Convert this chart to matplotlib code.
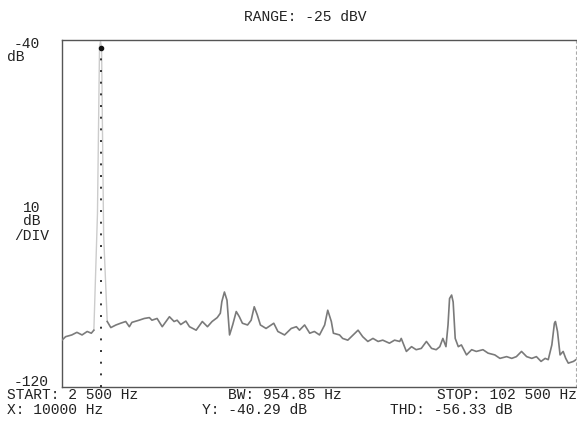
import matplotlib
matplotlib.use("Agg")
import matplotlib.pyplot as plt

# ---- data ----
freq_hz = [2500, 3200, 4400, 5400, 6400, 7400, 8200, 8700,
           9400, 9800, 10000, 10200, 10600,
           11300, 12000, 13000, 13900, 14900, 15600, 16100, 17500, 18500, 19500,
           20000, 21000, 22000, 23400, 24300, 24900, 25600, 26600, 27300, 28600,
           29800, 30800, 31700, 32700, 33300, 33600, 34100, 34600, 35100, 35700,
           36400, 37000, 37600, 38600, 39300, 39900, 40500, 41100, 42200, 43700,
           44500, 45800, 47100, 48100, 48700, 49700, 50700, 51600, 52600, 53600,
           54200, 54900, 55300, 56500, 57100, 58100, 60100, 61000, 62000, 63000,
           64000, 64900, 66200, 67200, 68200, 68500, 69500, 70500, 71400, 72400,
           73400, 74400, 75300, 76000, 76600, 77200, 77600, 77900, 78300, 78600,
           79000, 79600, 80200, 81200, 82200, 83100, 84400, 85400, 86700, 87700,
           89000, 90000, 90900, 91900, 92900, 93900, 94800, 95700, 96500, 97100,
           97800, 98300, 98500, 98900, 99400, 100000, 100500, 101000, 102000, 102500]
level_db = [-109.2, -108.4, -108.0, -107.4, -108.0, -107.2, -107.6, -106.9,
            -80.0, -41.5, -40.3, -42.0, -85.0,
            -104.9, -106.3, -105.7, -105.3, -104.9, -106.1, -105.1, -104.6, -104.2, -104.0,
            -104.6, -104.2, -106.1, -103.8, -104.9, -104.6, -105.6, -104.8, -106.1, -106.9,
            -104.9, -106.1, -104.9, -104.0, -103.0, -100.3, -98.1, -100.0, -108.0, -105.7,
            -102.6, -103.8, -105.3, -105.7, -104.6, -101.5, -103.4, -105.7, -106.5, -105.3,
            -107.2, -108.0, -106.5, -106.1, -106.9, -105.7, -107.6, -107.2, -108.0, -105.7,
            -102.3, -104.9, -107.6, -108.0, -108.8, -109.2, -106.9, -108.4, -109.5, -108.8,
            -109.5, -109.2, -109.9, -109.2, -109.5, -108.8, -111.8, -110.7, -111.4, -111.1,
            -109.5, -111.1, -111.4, -110.7, -108.8, -110.7, -105.7, -99.6, -98.8, -100.4,
            -108.8, -110.7, -110.3, -112.6, -111.4, -111.8, -111.4, -112.2, -112.6, -113.4,
            -113.0, -113.4, -113.0, -111.8, -113.0, -113.4, -113.0, -114.1, -113.4, -113.7,
            -110.3, -105.3, -104.9, -107.2, -112.6, -111.8, -113.4, -114.5, -114.1, -113.7]

marker_hz = 10000
marker_db = -40.29
x_start, x_stop = 2500, 102500
y_top, y_bottom = -40, -120

title_text = "RANGE: -25 dBV"
footer_row1 = ["START: 2 500 Hz", "BW: 954.85 Hz", "STOP: 102 500 Hz"]
footer_row2 = ["X: 10000 Hz", "Y: -40.29 dB", "THD: -56.33 dB"]

# ---- figure ----
W, H = 577, 423
fig = plt.figure(figsize=(W / 100, H / 100), dpi=100)
fig.patch.set_facecolor("white")

ax = fig.add_axes([62 / W, 1 - 387 / H, (576 - 62) / W, (387 - 40) / H])
ax.set_xlim(x_start, x_stop)
ax.set_ylim(y_bottom, y_top)
ax.set_xticks([])
ax.set_yticks([])
for side in ("left", "top", "bottom"):
    ax.spines[side].set_color("#555555")
    ax.spines[side].set_linewidth(1.0)
ax.spines["right"].set_color("#aaaaaa")
ax.spines["right"].set_linestyle((0, (2, 3)))
ax.spines["right"].set_linewidth(0.8)

# trace: noise floor left of carrier, faint carrier spike, rest
ax.plot(freq_hz[:8], level_db[:8], color="#7c7c7c", lw=1.2, zorder=3)
ax.plot(freq_hz[7:14], level_db[7:14], color="#cccccc", lw=1.0, zorder=2)
ax.plot(freq_hz[13:], level_db[13:], color="#7a7a7a", lw=1.2, zorder=3)

# marker line and marker dot
ax.axvline(marker_hz, color="#333333", lw=1.4, ls=(0, (1, 5)), zorder=4)
ax.plot([marker_hz], [marker_db - 1.5], marker="o", ms=3, color="#111111", zorder=5)

mono = "Liberation Mono"
fs = 10.5
tc = "#222222"

def ftext(x, y, s, ha="left"):
    fig.text(x / W, 1 - y / H, s, ha=ha, va="center", fontsize=fs,
             family=mono, color=tc)

ftext(305, 17, title_text, ha="center")
ftext(14, 44, "-40")
ftext(7, 57, "dB")
ftext(32, 208, "10", ha="center")
ftext(32, 221, "dB", ha="center")
ftext(32, 236, "/DIV", ha="center")
ftext(14, 382, "-120")

ftext(7, 395, footer_row1[0])
ftext(228, 395, footer_row1[1])
ftext(577, 395, footer_row1[2], ha="right")
ftext(7, 410, footer_row2[0])
ftext(202, 410, footer_row2[1])
ftext(390, 410, footer_row2[2])

fig.savefig("out.png", dpi=100, facecolor="white")
